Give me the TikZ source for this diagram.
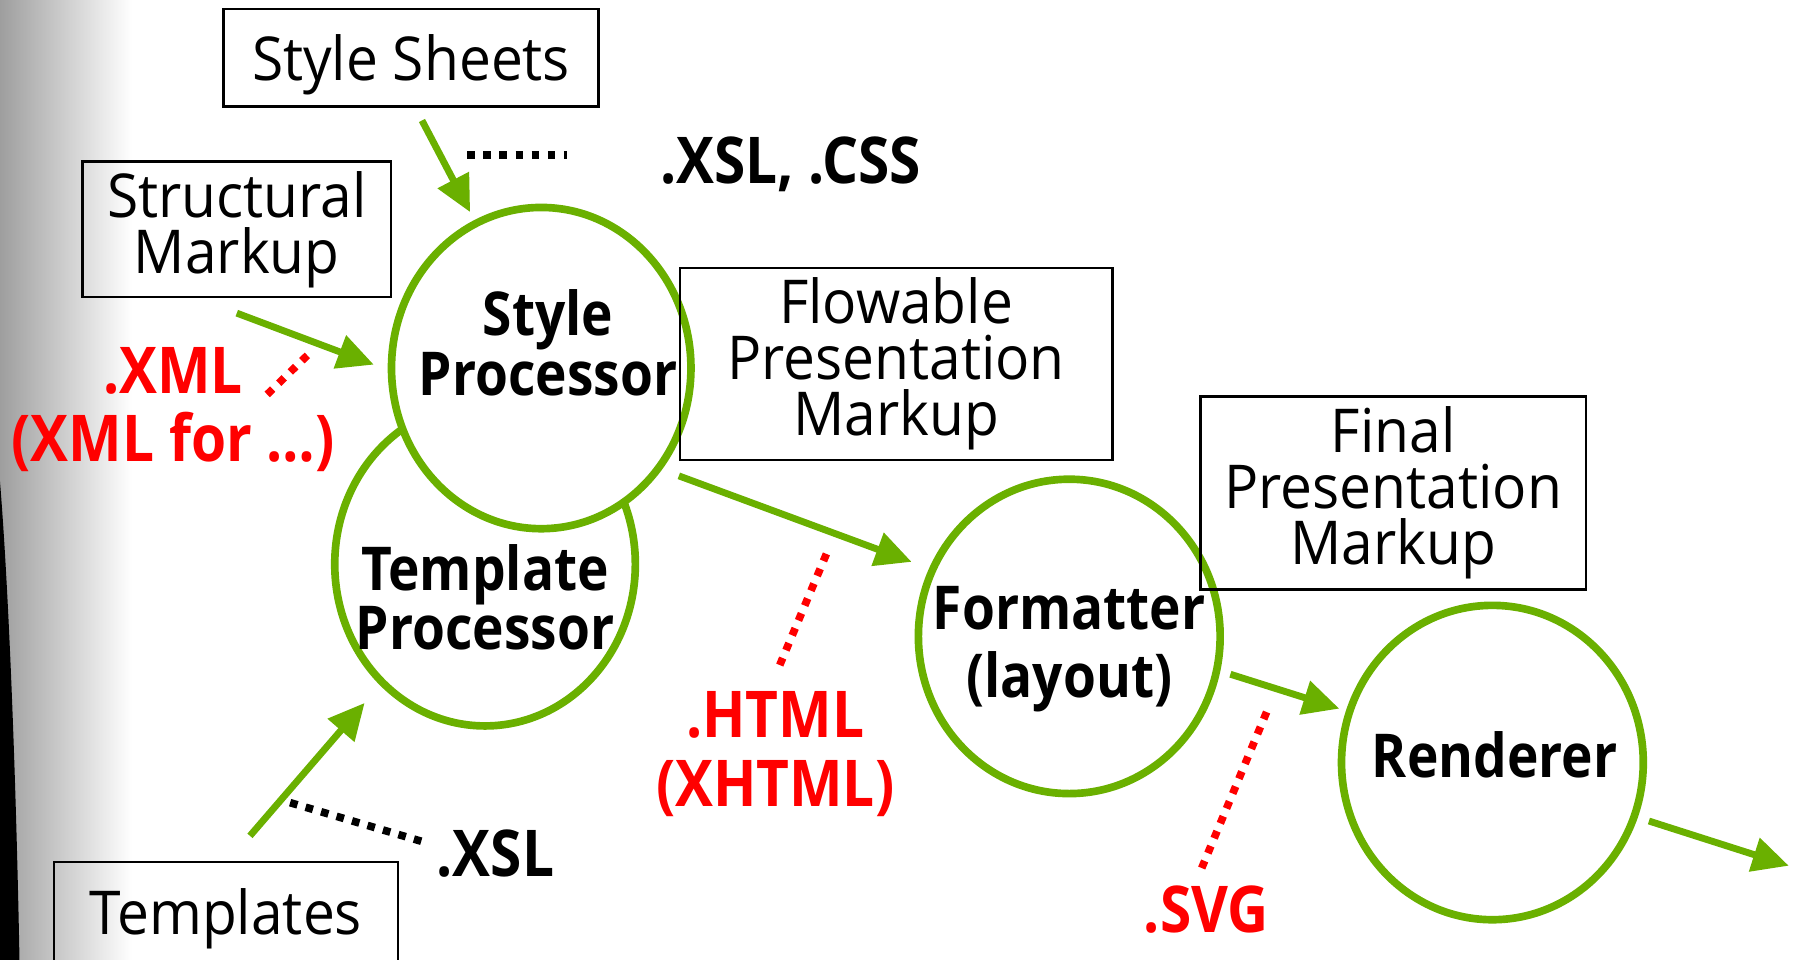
\documentclass[tikz,border=0pt]{standalone}
\usepackage{fontspec}
\setmainfont{Open Sans}[FakeStretch=0.94, BoldFeatures={FakeStretch=0.88}]
\usepackage{tikz}
\usetikzlibrary{calc,arrows.meta,shapes.geometric}
\definecolor{procgreen}{RGB}{106,176,0}
\definecolor{extred}{RGB}{255,0,0}

\tikzset{
  markup/.style={draw, line width=0.6pt, align=center, inner sep=0pt, font=\fontsize{15}{13.9}\selectfont},
  proc/.style={ellipse, draw=procgreen, line width=1.9pt, inner sep=0pt},
  proctext/.style={align=center, font=\fontsize{15}{14.8}\selectfont\bfseries},
  ext/.style={align=center, font=\fontsize{16}{17}\selectfont\bfseries},
  flow/.style={->, >={Triangle[length=9pt,width=8.4pt]}, procgreen, line width=1.7pt},
  dotline/.style={line width=1.9pt, dash pattern=on 1.9pt off 2.1pt},
}

\begin{document}
\begin{tikzpicture}[x=0.01cm, y=-0.01cm]
  \useasboundingbox (0,0) rectangle (1568,837);
  % page edge on the left
  \shade[left color=black!38, right color=white] (0,0) rectangle (115,837);
  \fill[black] (0,420) .. controls (8,520) and (14,680) .. (17,837) -- (0,837) -- cycle;

  % processors
  \node[proc, minimum width=2.62cm, minimum height=2.82cm] (templp) at (423,492) {};
  \node[proc, fill=white, minimum width=2.61cm, minimum height=2.80cm] (stylep) at (472,321) {};
  \node[proc, minimum width=2.63cm, minimum height=2.74cm] (formatter) at (932.5,555) {};
  \node[proc, minimum width=2.63cm, minimum height=2.74cm] (renderer) at (1301.5,665) {};
  \node[proctext] (templpt) at ($(templp)+(0,29)$) {Template\\Processor};
  \node[proctext] (stylept) at ($(stylep)+(6,-22)$) {Style\\Processor};
  \node[proctext] (formattert) at ($(formatter)+(0,11)$) {Formatter\\[2pt](layout)};
  \node[proctext] (renderert) at ($(renderer)+(2,-7)$) {Renderer};

  % markup boxes
  \node[markup, text depth=0pt, minimum width=3.27cm, minimum height=0.85cm] (sheets) at (358.5,50.5) {Style Sheets};
  \node[markup, minimum width=2.69cm, minimum height=1.18cm] (structural) at (206.5,200) {Structural\\Markup};
  \node[markup, minimum width=3.77cm, minimum height=1.67cm] (flowable) at (781.5,317.5) {Flowable\\Presentation\\Markup};
  \node[markup, minimum width=3.36cm, minimum height=1.68cm] (final) at (1215,430) {Final\\Presentation\\Markup};
  \node[markup, text depth=0pt, minimum width=3.00cm, minimum height=0.86cm] (templates) at (197,795) {Templates};

  % file types
  \node[ext] (xslcss) at (689.5,143) {.XSL, .CSS};
  \node[ext] (xsl) at (432,744.5) {.XSL};
  \node[ext, text=extred] (xml) at (151,357) {.XML\\(XML for \ldots)};
  \node[ext, text=extred] (html) at (676,657.5) {.HTML\\(XHTML)};
  \node[ext, text=extred] (svg) at (1052,793) {.SVG};
  \coordinate (output) at (1560,755);

  % flow
  \draw[flow] ($(sheets.south)+(9.5,11)$) -- ($(stylep)+(-62,-136)$);
  \draw[flow] ($(structural.south)+(0,13)$) -- ($(stylep)+(-146,-3)$);
  \draw[flow] ($(templates.north)+(21,-22)$) -- ($(templp)+(-105,121)$);
  \draw[flow] ($(stylep)+(120,94)$) -- ($(formatter)+(-137.5,-65)$);
  \draw[flow] ($(formatter)+(140.5,33)$) -- ($(renderer)+(-133.5,-47)$);
  \draw[flow] ($(renderer)+(136.5,51)$) -- (output);

  % dotted hints
  \draw[dotline] ($(xslcss.west)+(-156,-8)$) -- ($(xslcss.west)+(-69,-8)$);
  \draw[dotline] ($(xsl)+(-179,-44.5)$) -- ($(xsl)+(-60,-9.5)$);
  \draw[dotline, extred] ($(xml)+(82,-13)$) -- ($(xml)+(119,-49)$);
  \draw[dotline, extred] ($(html)+(4,-77.5)$) -- ($(html)+(46,-177.5)$);
  \draw[dotline, extred] ($(svg)+(-4,-36)$) -- ($(svg)+(53,-173)$);
\end{tikzpicture}
\end{document}
